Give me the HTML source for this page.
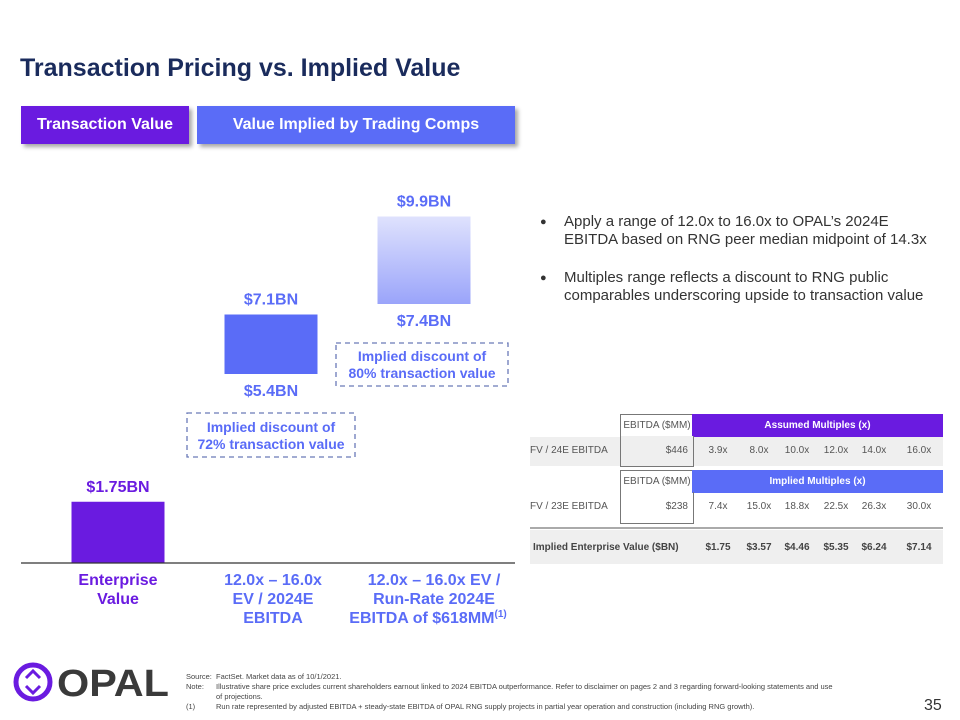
<!DOCTYPE html>
<html><head><meta charset="utf-8"><style>
body{margin:0;background:#fff;font-family:"Liberation Sans",Arial,sans-serif;}
#page{position:relative;width:960px;height:720px;overflow:hidden;background:#fff;}
.abs{position:absolute;}
</style></head><body>
<div id="page">
<div class="abs" style="left:20px;top:54px;font-size:25px;font-weight:bold;color:#1a2b5c;">Transaction Pricing vs. Implied Value</div>
<div class="abs" style="left:21px;top:106px;width:168px;height:38px;background:#6a1be0;color:#fff;font-weight:bold;font-size:16px;line-height:38px;text-align:center;box-shadow:3px 3px 4px rgba(0,0,0,0.35);">Transaction Value</div>
<div class="abs" style="left:197px;top:106px;width:318px;height:38px;background:#5a6cf7;color:#fff;font-weight:bold;font-size:16px;line-height:38px;text-align:center;box-shadow:3px 3px 4px rgba(0,0,0,0.35);">Value Implied by Trading Comps</div>

<svg class="abs" style="left:0;top:0" width="520" height="650">
<defs><linearGradient id="g3" x1="0" y1="0" x2="0" y2="1"><stop offset="0" stop-color="#dfe2fd"/><stop offset="1" stop-color="#9aa4fa"/></linearGradient></defs>
<g id="bars"></g>
<line x1="21" y1="563" x2="515" y2="563" stroke="#333" stroke-width="1.2"/>
<rect x="187" y="413" width="168" height="44" fill="none" stroke="#6a7ab8" stroke-width="1.3" stroke-dasharray="5,4"/>
<text x="271" y="432" text-anchor="middle" font-size="14" font-weight="bold" fill="#5a6cf7">Implied discount of</text>
<text x="271" y="449" text-anchor="middle" font-size="14" font-weight="bold" fill="#5a6cf7">72% transaction value</text>
<rect x="336" y="343" width="172" height="43" fill="none" stroke="#6a7ab8" stroke-width="1.3" stroke-dasharray="5,4"/>
<text x="422" y="361" text-anchor="middle" font-size="14" font-weight="bold" fill="#5a6cf7">Implied discount of</text>
<text x="422" y="378" text-anchor="middle" font-size="14" font-weight="bold" fill="#5a6cf7">80% transaction value</text>
<g font-size="16" font-weight="bold" text-anchor="middle">
<text x="118" y="585" fill="#6a1be0"><tspan x="118">Enterprise</tspan><tspan x="118" dy="19">Value</tspan></text>
<text x="273" y="585" fill="#5a6cf7"><tspan x="273">12.0x – 16.0x</tspan><tspan x="273" dy="19">EV / 2024E</tspan><tspan x="273" dy="19">EBITDA</tspan></text>
<text x="434" y="585" fill="#5a6cf7"><tspan x="434">12.0x – 16.0x EV /</tspan><tspan x="434" dy="19">Run-Rate 2024E</tspan><tspan x="428" dy="19">EBITDA of $618MM<tspan font-size="10" dy="-6">(1)</tspan></tspan></text>
</g>
</svg>

<div class="abs" style="left:540px;top:213px;width:400px;font-size:15px;color:#333;line-height:18px;">
<div style="position:relative;padding-left:24px;margin-bottom:20px;"><span style="position:absolute;left:0;font-size:11px;">●</span>Apply a range of 12.0x to 16.0x to OPAL’s 2024E EBITDA based on RNG peer median midpoint of 14.3x</div>
<div style="position:relative;padding-left:24px;"><span style="position:absolute;left:0;font-size:11px;">●</span>Multiples range reflects a discount to RNG public comparables underscoring upside to transaction value</div>
</div>

<div class="abs" style="left:530px;top:414px;width:413px;height:150px;font-size:10px;color:#555;">
<div class="abs" style="left:90px;top:0;width:72px;height:22px;border:1px solid #777;border-bottom:none;line-height:22px;text-align:center;background:#fff;">EBITDA ($MM)</div>
<div class="abs" style="left:162px;top:0;width:251px;height:23px;background:#6a1be0;color:#fff;font-weight:bold;line-height:23px;text-align:center;">Assumed Multiples (x)</div>
<div class="abs" style="left:0;top:23px;width:413px;height:29px;background:#efefef;"></div>
<div class="abs" style="left:90px;top:22px;width:72px;height:30px;border:1px solid #777;border-top:none;background:#efefef;"></div>
<div class="abs" style="left:0;top:31px;">FV / 24E EBITDA</div>
<div class="abs" style="left:90px;top:31px;width:68px;text-align:right;">$446</div>
<div class="abs" style="left:90px;top:56px;width:72px;height:22px;border:1px solid #777;border-bottom:none;line-height:22px;text-align:center;">EBITDA ($MM)</div>
<div class="abs" style="left:162px;top:56px;width:251px;height:23px;background:#5a6cf7;color:#fff;font-weight:bold;line-height:23px;text-align:center;">Implied Multiples (x)</div>
<div class="abs" style="left:90px;top:78px;width:72px;height:31px;border:1px solid #777;border-top:none;"></div>
<div class="abs" style="left:0;top:87px;">FV / 23E EBITDA</div>
<div class="abs" style="left:90px;top:87px;width:68px;text-align:right;">$238</div>
<div class="abs" style="left:0;top:113px;width:413px;height:2px;background:#aaa;"></div>
<div class="abs" style="left:0;top:116px;width:413px;height:34px;background:#efefef;"></div>
<div class="abs" style="left:3px;top:128px;font-weight:bold;color:#444;">Implied Enterprise Value ($BN)</div>
<div id="cells"></div>
</div>

<svg class="abs" style="left:12px;top:660px" width="160" height="44">
<circle cx="21" cy="22" r="17" fill="none" stroke="#6a1be0" stroke-width="5"/>
<polyline points="14,18 21,11 28,18" fill="none" stroke="#6a1be0" stroke-width="3"/>
<polyline points="14,26 21,33 28,26" fill="none" stroke="#6a1be0" stroke-width="3"/>
<text x="45" y="36" font-size="38" font-weight="bold" fill="#3a3a3a" textLength="112" lengthAdjust="spacingAndGlyphs">OPAL</text>
</svg>
<div class="abs" style="left:186px;top:672px;width:695px;font-size:7.5px;color:#444;line-height:10px;">
<div style="position:relative;padding-left:30px;"><span style="position:absolute;left:0">Source:</span>FactSet. Market data as of 10/1/2021.</div>
<div style="position:relative;padding-left:30px;text-align:justify;"><span style="position:absolute;left:0">Note:</span>Illustrative share price excludes current shareholders earnout linked to 2024 EBITDA outperformance. Refer to disclaimer on pages 2 and 3 regarding forward-looking statements and use<br>of projections.</div>
<div style="position:relative;padding-left:30px;"><span style="position:absolute;left:0">(1)</span>Run rate represented by adjusted EBITDA + steady-state EBITDA of OPAL RNG supply projects in partial year operation and construction (including RNG growth).</div>
</div>
<div class="abs" style="left:924px;top:697px;font-size:16px;color:#333;">35</div>
</div>
<script>
const categories=["Enterprise Value","EV / 2024E","Run-Rate 2024E"];
const lowValues=[0,5.4,7.4];
const highValues=[1.75,7.1,9.9];
const valueLabels=[["","$1.75BN"],["$5.4BN","$7.1BN"],["$7.4BN","$9.9BN"]];
const assumedMultiples=["3.9x","8.0x","10.0x","12.0x","14.0x","16.0x"];
const impliedMultiples=["7.4x","15.0x","18.8x","22.5x","26.3x","30.0x"];
const impliedEV=["$1.75","$3.57","$4.46","$5.35","$6.24","$7.14"];

const NS="http://www.w3.org/2000/svg";
const y=v=>563-v*35;
const xc=i=>118+i*153;
const fills=["#6a1be0","#5a6cf7","url(#g3)"];
const labelCols=["#6a1be0","#5a6cf7","#5a6cf7"];
const g=document.getElementById('bars');
categories.forEach((c,i)=>{
  const r=document.createElementNS(NS,'rect');
  r.setAttribute('x',xc(i)-46.5);r.setAttribute('width',93);
  r.setAttribute('y',y(highValues[i]));r.setAttribute('height',y(lowValues[i])-y(highValues[i]));
  r.setAttribute('fill',fills[i]);
  
  
  g.appendChild(r);
  const t=document.createElementNS(NS,'text');
  t.setAttribute('x',xc(i));t.setAttribute('y',y(highValues[i])-10);
  t.setAttribute('text-anchor','middle');t.setAttribute('font-size','16');t.setAttribute('font-weight','bold');
  t.setAttribute('fill',labelCols[i]);t.textContent=valueLabels[i][1];
  
  
  g.appendChild(t);
  if(lowValues[i]>0){
    const b=document.createElementNS(NS,'text');
    b.setAttribute('x',xc(i));b.setAttribute('y',y(lowValues[i])+22);
    b.setAttribute('text-anchor','middle');b.setAttribute('font-size','16');b.setAttribute('font-weight','bold');
    b.setAttribute('fill',labelCols[i]);b.textContent=valueLabels[i][0];
    
    
    g.appendChild(b);
  }
});
const cells=document.getElementById('cells');
const colX=[188,229,267,306,344,389];
function addRow(arr,top,name,bold){
  arr.forEach((v,i)=>{
    const d=document.createElement('div');
    d.className='abs';
    d.style.left=(colX[i]-20)+'px';d.style.width='40px';d.style.textAlign='center';d.style.top=top+'px';
    if(bold){d.style.fontWeight='bold';d.style.color='#444';}
    d.textContent=v;
    
    
    cells.appendChild(d);
  });
}
addRow(assumedMultiples,31,'assumed-multiple',false);
addRow(impliedMultiples,87,'implied-multiple',false);
addRow(impliedEV,128,'implied-ev',true);
</script>
</body></html>
